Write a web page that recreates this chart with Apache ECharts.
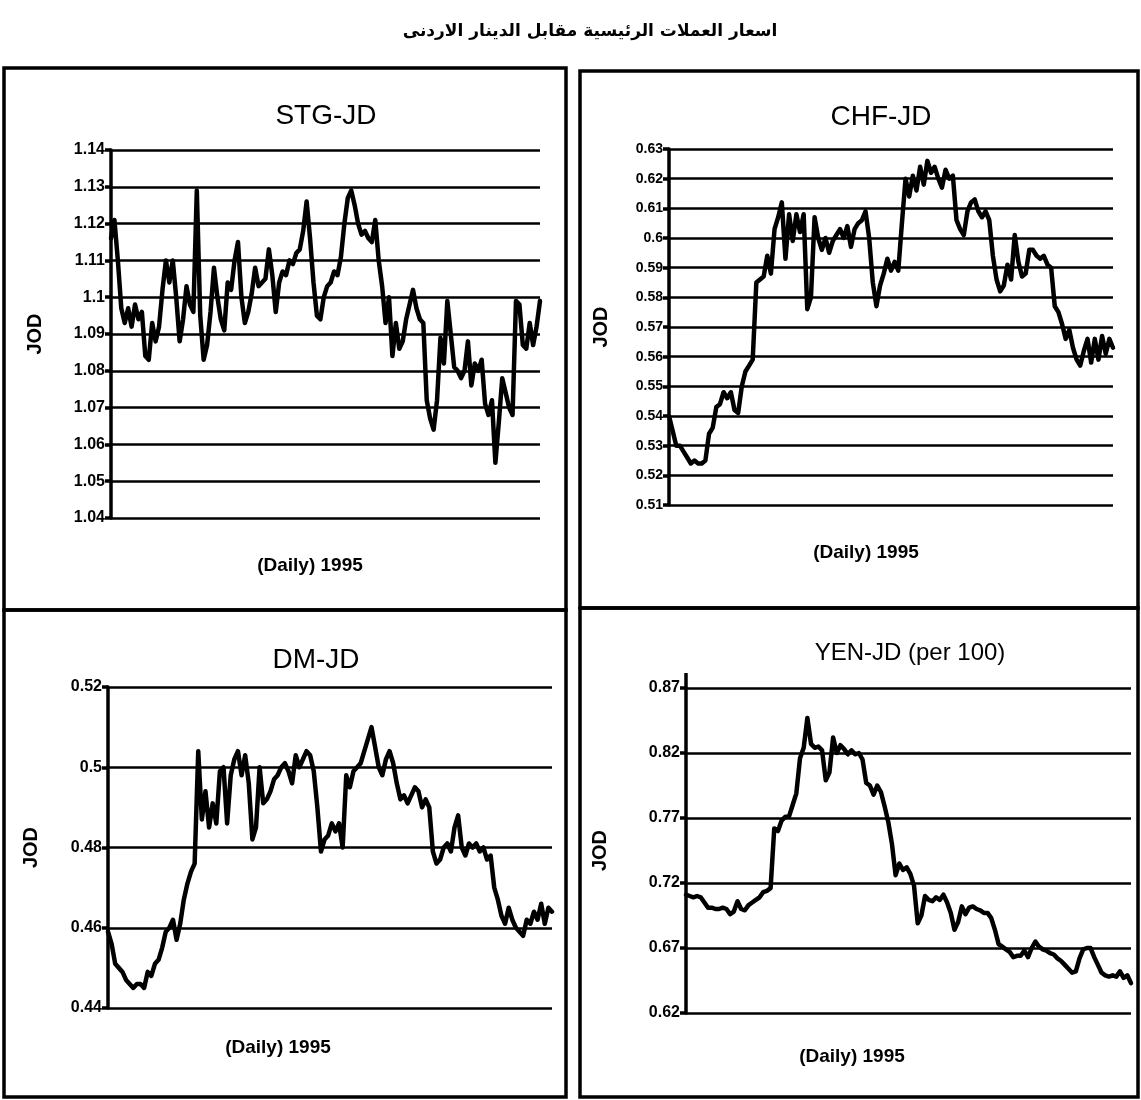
<!DOCTYPE html>
<html>
<head>
<meta charset="utf-8">
<script src="https://cdn.jsdelivr.net/npm/echarts@6/dist/echarts.min.js"></script>
<style>
  html, body { margin: 0; padding: 0; background: #fff; }
  #chart { width: 1141px; height: 1100px; }
</style>
</head>
<body>
<div id="chart"></div>
<script>
// daily 1995 rates (JOD per unit)
const stgRate = [1.116, 1.121, 1.110, 1.097, 1.093, 1.097, 1.092, 1.098, 1.094, 1.096,
  1.084, 1.083, 1.093, 1.088, 1.092, 1.102, 1.110, 1.104, 1.110, 1.100,
  1.088, 1.094, 1.103, 1.098, 1.096, 1.129, 1.095, 1.083, 1.087, 1.096,
  1.108, 1.100, 1.094, 1.091, 1.104, 1.102, 1.110, 1.115, 1.100, 1.093,
  1.096, 1.101, 1.108, 1.103, 1.104, 1.105, 1.113, 1.106, 1.096, 1.104,
  1.107, 1.106, 1.110, 1.109, 1.112, 1.113, 1.118, 1.126, 1.116, 1.104,
  1.095, 1.094, 1.100, 1.103, 1.104, 1.107, 1.106, 1.111, 1.120, 1.127,
  1.129, 1.125, 1.120, 1.117, 1.118, 1.116, 1.115, 1.121, 1.110, 1.103,
  1.093, 1.100, 1.084, 1.093, 1.086, 1.088, 1.094, 1.098, 1.102, 1.097,
  1.094, 1.093, 1.072, 1.067, 1.064, 1.072, 1.089, 1.082, 1.099, 1.090,
  1.081, 1.080, 1.078, 1.080, 1.088, 1.076, 1.082, 1.080, 1.083, 1.071,
  1.068, 1.072, 1.055, 1.066, 1.078, 1.074, 1.070, 1.068, 1.099, 1.098,
  1.087, 1.086, 1.093, 1.087, 1.092, 1.099];

const chfRate = [0.540, 0.535, 0.530, 0.530, 0.528, 0.526, 0.524, 0.525, 0.524, 0.524,
  0.525, 0.534, 0.536, 0.543, 0.544, 0.548, 0.546, 0.548, 0.542, 0.541,
  0.550, 0.555, 0.557, 0.559, 0.585, 0.586, 0.587, 0.594, 0.588, 0.603,
  0.607, 0.612, 0.593, 0.608, 0.599, 0.608, 0.602, 0.608, 0.576, 0.580,
  0.607, 0.600, 0.596, 0.600, 0.595, 0.599, 0.601, 0.603, 0.600, 0.604,
  0.597, 0.603, 0.605, 0.606, 0.609, 0.600, 0.585, 0.577, 0.584, 0.588,
  0.593, 0.589, 0.592, 0.589, 0.605, 0.620, 0.614, 0.621, 0.616, 0.624,
  0.618, 0.626, 0.622, 0.624, 0.620, 0.617, 0.623, 0.620, 0.621, 0.606,
  0.603, 0.601, 0.609, 0.612, 0.613, 0.609, 0.607, 0.609, 0.606, 0.594,
  0.586, 0.582, 0.584, 0.591, 0.586, 0.601, 0.592, 0.587, 0.588, 0.596,
  0.596, 0.594, 0.593, 0.594, 0.591, 0.590, 0.577, 0.575, 0.571, 0.566,
  0.569, 0.563, 0.559, 0.557, 0.562, 0.566, 0.558, 0.566, 0.559, 0.567,
  0.561, 0.566, 0.563];

const dmRate = [0.459, 0.456, 0.451, 0.450, 0.449, 0.447, 0.446, 0.445, 0.446, 0.446,
  0.445, 0.449, 0.448, 0.451, 0.452, 0.455, 0.459, 0.460, 0.462, 0.457,
  0.461, 0.467, 0.471, 0.474, 0.476, 0.504, 0.487, 0.494, 0.485, 0.491,
  0.486, 0.499, 0.500, 0.486, 0.498, 0.502, 0.504, 0.498, 0.503, 0.496,
  0.482, 0.485, 0.500, 0.491, 0.492, 0.494, 0.497, 0.498, 0.500, 0.501,
  0.499, 0.496, 0.503, 0.500, 0.502, 0.504, 0.503, 0.499, 0.490, 0.479,
  0.482, 0.483, 0.486, 0.484, 0.486, 0.480, 0.498, 0.495, 0.499, 0.500,
  0.501, 0.504, 0.507, 0.510, 0.505, 0.500, 0.498, 0.502, 0.504, 0.501,
  0.496, 0.492, 0.493, 0.491, 0.493, 0.495, 0.494, 0.490, 0.492, 0.490,
  0.479, 0.476, 0.477, 0.480, 0.481, 0.479, 0.485, 0.488, 0.480, 0.478,
  0.481, 0.480, 0.481, 0.479, 0.480, 0.477, 0.478, 0.470, 0.467, 0.463,
  0.461, 0.465, 0.462, 0.460, 0.459, 0.458, 0.462, 0.461, 0.464, 0.462,
  0.466, 0.461, 0.465, 0.464];

const yenRate = [0.711, 0.710, 0.709, 0.710, 0.709, 0.705, 0.701, 0.701, 0.700, 0.700,
  0.701, 0.700, 0.696, 0.698, 0.706, 0.700, 0.699, 0.703, 0.705, 0.707,
  0.709, 0.713, 0.714, 0.716, 0.762, 0.760, 0.768, 0.771, 0.771, 0.780,
  0.789, 0.816, 0.824, 0.847, 0.827, 0.824, 0.825, 0.822, 0.799, 0.805,
  0.832, 0.820, 0.826, 0.823, 0.819, 0.822, 0.819, 0.820, 0.815, 0.797,
  0.795, 0.788, 0.795, 0.790, 0.779, 0.767, 0.750, 0.726, 0.735, 0.730,
  0.732, 0.727, 0.718, 0.689, 0.695, 0.710, 0.707, 0.706, 0.709, 0.707,
  0.711, 0.705, 0.697, 0.684, 0.690, 0.702, 0.696, 0.701, 0.702, 0.700,
  0.699, 0.697, 0.697, 0.693, 0.684, 0.673, 0.671, 0.669, 0.667, 0.663,
  0.664, 0.664, 0.668, 0.663, 0.670, 0.675, 0.671, 0.669, 0.668, 0.666,
  0.665, 0.662, 0.660, 0.657, 0.654, 0.651, 0.652, 0.662, 0.669, 0.670,
  0.670, 0.663, 0.657, 0.651, 0.649, 0.648, 0.649, 0.648, 0.652, 0.647,
  0.649, 0.643];

const panelTitles = ['STG-JD', 'CHF-JD', 'DM-JD', 'YEN-JD (per 100)'];
const yMin = [1.04, 0.51, 0.44, 0.62];
const yMax = [1.14, 0.63, 0.52, 0.87];
const yStep = [0.01, 0.01, 0.02, 0.05];
const mainTitle = 'اسعار العملات الرئيسية مقابل الدينار الاردنى';
const xTitle = '(Daily) 1995';

const rates = [stgRate, chfRate, dmRate, yenRate];

// plot boxes: left, top, right edge, bottom edge (px)
const boxes = [
  {l: 111, t: 150, r: 540, b: 518},
  {l: 669, t: 149, r: 1113, b: 505},
  {l: 108, t: 687, r: 552, b: 1008},
  {l: 686, t: 688, r: 1131, b: 1013}
];
const labelSize = [16, 14, 16, 16];
const nameGap = [66, 58, 67, 76];

const font = 'Liberation Sans, Arial, sans-serif';
const chart = echarts.init(document.getElementById('chart'));

const grids = [], xAxes = [], yAxes = [], series = [];
boxes.forEach((b, i) => {
  grids.push({left: b.l, top: b.t, width: b.r - b.l, height: b.b - b.t});
  xAxes.push({type: 'value', gridIndex: i, min: 0, max: rates[i].length - 1, show: false});
  yAxes.push({
    type: 'value', gridIndex: i,
    min: yMin[i], max: yMax[i], interval: yStep[i],
    name: 'JOD', nameLocation: 'middle', nameRotate: 90, nameGap: nameGap[i],
    nameTextStyle: {color: '#000', fontFamily: font, fontWeight: 'bold', fontSize: 20},
    axisLine: {show: true, lineStyle: {color: '#000', width: 3.5}},
    axisTick: {show: true, length: 6, lineStyle: {color: '#000', width: 3.5}},
    axisLabel: {
      color: '#000', fontFamily: font, fontWeight: 'bold', fontSize: labelSize[i], margin: 6,
      formatter: v => String(+v.toFixed(2))
    },
    splitLine: {show: true, lineStyle: {color: '#000', width: 2.5}}
  });
  series.push({
    type: 'line', xAxisIndex: i, yAxisIndex: i,
    data: rates[i].map((v, k) => [k, v]),
    symbol: 'none',
    lineStyle: {color: '#000', width: 4.5, join: 'round', cap: 'round'},
    animation: false
  });
});

function label(text, x, y, size, weight) {
  return {
    type: 'text', x: x, y: y,
    style: {text: text, fill: '#000', font: weight + ' ' + size + 'px ' + font,
      align: 'center', verticalAlign: 'middle', textAlign: 'center', textVerticalAlign: 'middle'}
  };
}

function frame(x, y, w, h) {
  return {type: 'rect', shape: {x: x, y: y, width: w, height: h},
    style: {fill: 'none', stroke: '#000', lineWidth: 3.5}};
}

const graphics = [
  frame(4, 68, 562, 542),
  frame(580, 71, 558, 537),
  frame(4, 610, 562, 487),
  frame(580, 608, 558, 489),
  {type: 'line', shape: {x1: 686, y1: 673, x2: 686, y2: 688}, style: {stroke: '#000', lineWidth: 3.5}},
  {
    type: 'text', x: 590, y: 32,
    style: {text: mainTitle, fill: '#000', font: 'bold 17px DejaVu Sans, sans-serif',
      align: 'center', verticalAlign: 'middle', textAlign: 'center', textVerticalAlign: 'middle'}
  },
  label(panelTitles[0], 326, 116, 28, 'normal'),
  label(panelTitles[1], 881, 117, 28, 'normal'),
  label(panelTitles[2], 316, 660, 28, 'normal'),
  label(panelTitles[3], 910, 653, 24, 'normal'),
  label(xTitle, 310, 566, 19, 'bold'),
  label(xTitle, 866, 553, 19, 'bold'),
  label(xTitle, 278, 1048, 19, 'bold'),
  label(xTitle, 852, 1057, 19, 'bold')
];

chart.setOption({
  backgroundColor: '#fff',
  animation: false,
  grid: grids,
  xAxis: xAxes,
  yAxis: yAxes,
  series: series,
  graphic: graphics
});
</script>
</body>
</html>
